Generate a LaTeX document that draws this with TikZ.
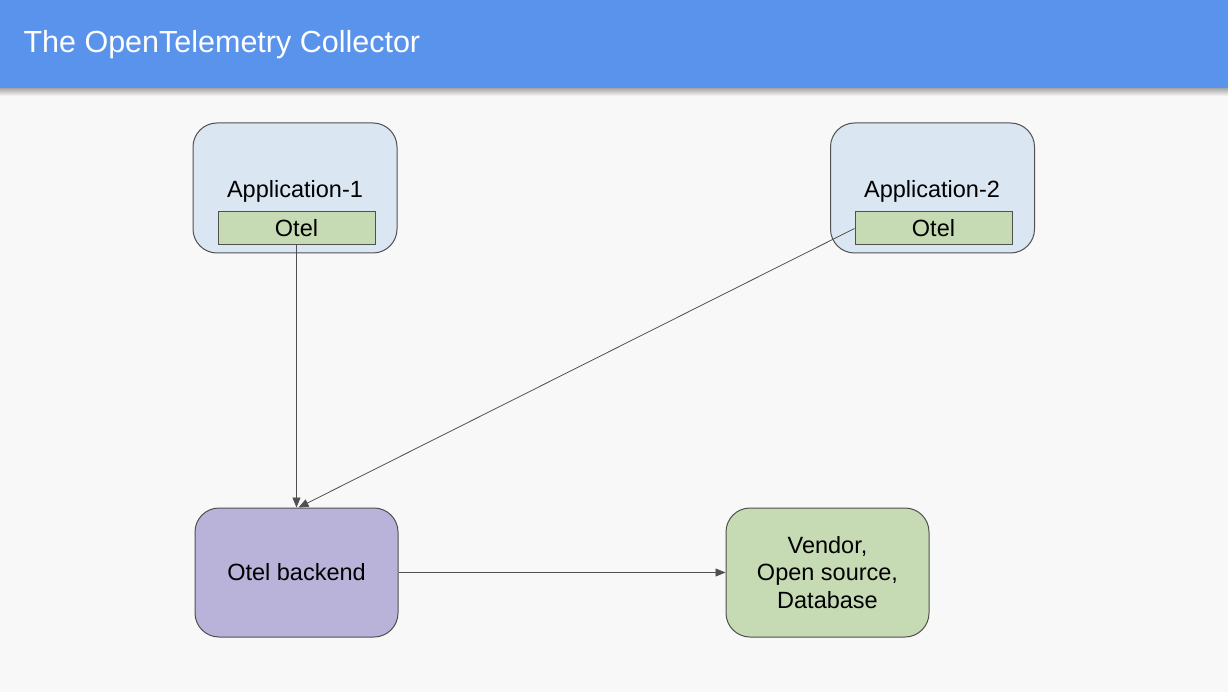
\documentclass[tikz,border=0pt]{standalone}
\usepackage{fontspec}
\setmainfont{Liberation Sans}
\usetikzlibrary{arrows.meta}

\definecolor{barblue}{HTML}{5A93EC}
\definecolor{pagebg}{HTML}{F8F8F8}
\definecolor{appfill}{HTML}{DAE6F2}
\definecolor{otelfill}{HTML}{C6DBB4}
\definecolor{backfill}{HTML}{B9B2D9}
\definecolor{edgegray}{HTML}{505050}

\begin{document}
\begin{tikzpicture}[
            x=1pt, y=-1pt,
            appbox/.style={rectangle, rounded corners=24pt, draw=edgegray, line width=1pt, fill=appfill, minimum width=204pt, minimum height=130pt},
            otelbox/.style={rectangle, draw=edgegray, line width=1pt, fill=otelfill, minimum width=157pt, minimum height=33pt, inner sep=0pt, font=\fontsize{23.5}{27}\selectfont},
            sinkbox/.style={rectangle, rounded corners=24pt, draw=edgegray, line width=1pt, minimum width=203pt, minimum height=129pt, align=center, font=\fontsize{23.5}{27.5}\selectfont},
            label_app/.style={font=\fontsize{23.5}{27}\selectfont},
            line/.style={draw=edgegray, line width=0.8pt, -{Triangle[length=10pt, width=8pt]}}
        ]
        % Page and header bar
        \useasboundingbox (0,0) rectangle (1228,692);
        \fill[pagebg] (0,0) rectangle (1228,692);
        \shade[top color=black!35, bottom color=pagebg] (0,88) rectangle (1228,96);
        \fill[barblue] (0,0) rectangle (1228,88);
        \node[anchor=west, text=white, font=\fontsize{30.5}{35}\selectfont] (title) at (20,45) {The OpenTelemetry Collector};

        % Applications
        \node[appbox] (app1) at (295,188) {};
        \node[label_app] at (295,191) {Application-1};
        \node[otelbox] (otel1) at (296.5,228.5) {Otel};

        \node[appbox] (app2) at (932.5,188) {};
        \node[label_app] at (932,191) {Application-2};
        \node[otelbox] (otel2) at (933.5,228.5) {Otel};

        % Backend and sink
        \node[sinkbox, fill=backfill] (backend) at (296.5,572.5) {Otel backend};
        \node[sinkbox, fill=otelfill] (sink) at (827.5,572.5) {Vendor,\\Open source,\\Database};

        \draw[line] (otel1.south) -- (backend.north);
        \draw[line] (otel2.west) -- ([xshift=2pt]backend.north);
        \draw[line] (backend.east) -- (sink.west);

    \end{tikzpicture}
\end{document}
